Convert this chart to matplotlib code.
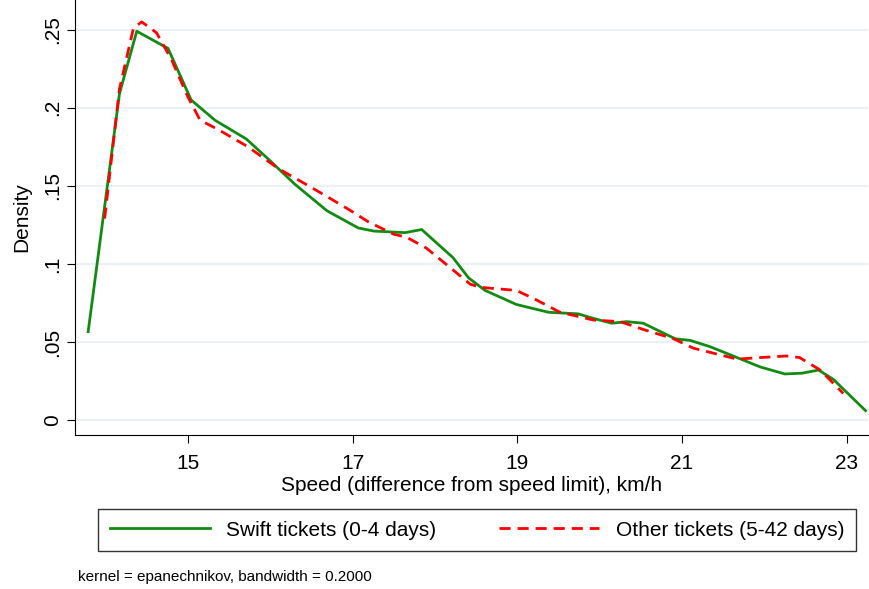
import matplotlib.pyplot as plt

plt.rcParams['font.family'] = ['Liberation Sans', 'DejaVu Sans']

swift_x = [13.79, 14.17, 14.38, 14.76, 15.04, 15.33, 15.71, 15.98, 16.30, 16.69, 17.07, 17.26,
           17.64, 17.84, 18.22, 18.41, 18.61, 18.99, 19.38, 19.74, 19.93, 20.15, 20.33, 20.53,
           20.92, 21.10, 21.34, 21.67, 21.95, 22.25, 22.46, 22.66, 22.84, 23.23]
swift_y = [.0566, .209, .249, .238, .205, .192, .180, .167, .151, .134, .123, .121,
           .120, .122, .104, .091, .083, .074, .069, .068, .065, .062, .063, .062,
           .052, .051, .047, .040, .034, .0295, .030, .032, .026, .006]

other_x = [13.99, 14.17, 14.34, 14.44, 14.62, 14.80, 15.00, 15.15, 15.37, 15.73, 16.10, 16.50,
           16.95, 17.19, 17.50, 17.66, 17.90, 18.43, 18.55, 18.99, 19.23, 19.52, 19.93, 20.25,
           20.53, 20.90, 21.14, 21.67, 21.95, 22.27, 22.43, 22.68, 22.96]
other_y = [.129, .212, .251, .255, .248, .231, .207, .192, .186, .175, .161, .149,
           .135, .127, .119, .117, .110, .087, .085, .083, .077, .069, .064, .063,
           .058, .052, .046, .039, .040, .041, .040, .032, .017]

xticks = [15, 17, 19, 21, 23]
yticks = [0, .05, .1, .15, .2, .25]
ytick_labels = ['0', '.05', '.1', '.15', '.2', '.25']

fig = plt.figure(figsize=(8.69, 5.89), dpi=100)
ax = fig.add_axes([75 / 869, 1 - 435 / 589, 793 / 869, 435 / 589])

ax.plot(swift_x, swift_y, color='#138a13', lw=2, label='Swift tickets (0-4 days)')
ax.plot(other_x, other_y, color='#ff0000', lw=2, ls=(0, (4, 2.5)), label='Other tickets (5-42 days)')

ax.set_xlim(13.63, 23.26)
ax.set_ylim(-0.0096, 0.269)
ax.set_xticks(xticks)
ax.set_yticks(yticks)
ax.set_yticklabels(ytick_labels, rotation=90, va='center')
ax.tick_params(labelsize=15, length=6, color='black')
ax.tick_params(axis='x', pad=8)
ax.grid(axis='y', color='#eaf0f3', lw=1.5)
ax.set_axisbelow(True)
for side in ['top', 'right']:
    ax.spines[side].set_visible(False)
ax.set_xlabel('Speed (difference from speed limit), km/h', fontsize=15, labelpad=2)
ax.set_ylabel('Density', fontsize=15, labelpad=8)

fig.legend(loc='center', bbox_to_anchor=(477 / 869, 1 - 530 / 589), ncol=2, fontsize=15,
           frameon=True, fancybox=False, edgecolor='black', handlelength=4.8,
           columnspacing=3.0, borderpad=0.55)
fig.text(78 / 869, 1 - 577 / 589, 'kernel = epanechnikov, bandwidth = 0.2000', fontsize=11, va='center')

fig.savefig('out.png', dpi=100)
